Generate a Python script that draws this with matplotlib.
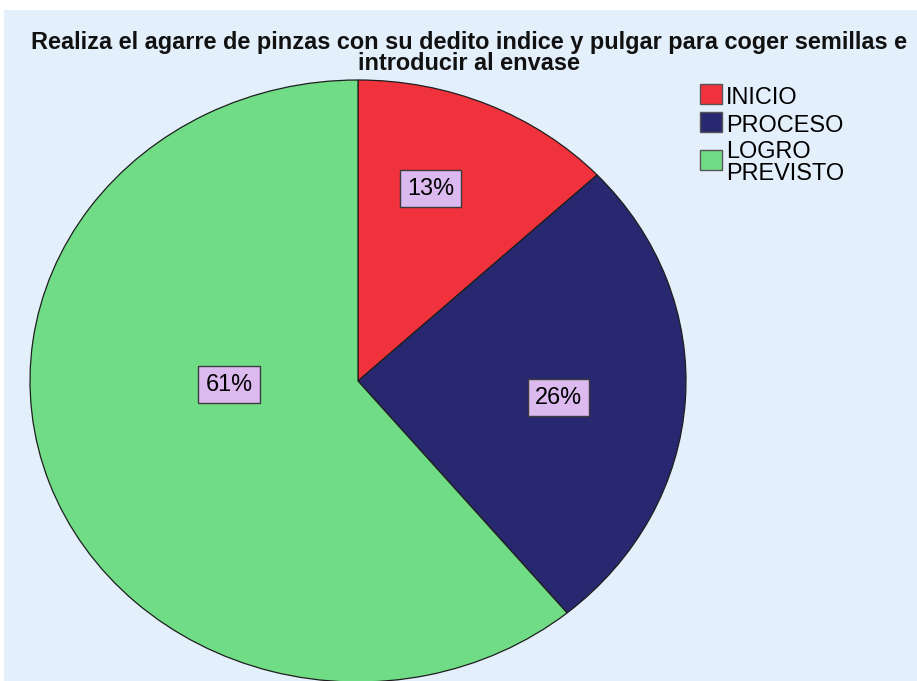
import matplotlib
matplotlib.use('Agg')
import matplotlib.pyplot as plt
from matplotlib.patches import Rectangle

plt.rcParams['font.family'] = ['Liberation Sans', 'DejaVu Sans']

# ---- data ----
categories = ['INICIO', 'PROCESO', 'LOGRO\nPREVISTO']
percentages = [13, 26, 61]
title_text = ('Realiza el agarre de pinzas con su dedito indice y pulgar para coger semillas e\n'
              'introducir al envase')

# ---- styles / positions ----
colors = ['#f0323c', '#282870', '#70dd86']
bg_color = '#e3effb'
label_box_color = '#dcb9ee'
label_anchor = [(0.222, 0.641), (0.612, -0.055), (-0.393, -0.013)]  # axes data coords
FS = 16.9

W, H = 917, 681
fig = plt.figure(figsize=(W / 100, H / 100), dpi=100, facecolor='white')
fig.patches.append(Rectangle((4 / W, 0), 1 - 4 / W, 1 - 10 / H, transform=fig.transFigure,
                             facecolor=bg_color, edgecolor='none', zorder=-10))

def fx(px):
    return px / W

def fy(py):
    return 1 - py / H

# pie (elliptical, as in the reference)
cx, cy, rx, ry = 358, 381, 328, 301
ax = fig.add_axes([(cx - rx) / W, (H - cy - ry) / H, 2 * rx / W, 2 * ry / H])
ax.set_facecolor('none')
wedges, _ = ax.pie(percentages, colors=colors, startangle=90, counterclock=False,
                   wedgeprops=dict(edgecolor='#1e1e1e', linewidth=0.9))
for w in wedges:
    w.set_clip_on(False)
ax.set_xlim(-1, 1)
ax.set_ylim(-1, 1)
ax.set_aspect('auto')
ax.axis('off')

for p, (x, y) in zip(percentages, label_anchor):
    ax.text(x, y, f'{p}%', ha='center', va='center', fontsize=FS, color='black',
            bbox=dict(boxstyle='square,pad=0.3', facecolor=label_box_color,
                      edgecolor='#3c3c3c', linewidth=1.0), zorder=5)

# title (baseline refers to the last line)
fig.text(fx(469), fy(69.5), title_text, ha='center', va='baseline', fontsize=FS,
         fontweight='bold', color='#111111', linespacing=0.88, multialignment='center')

# legend
sq_tops = [84, 111.7, 150]
text_baselines = [104, 131.7, 180]
for cat, col, top, b in zip(categories, colors, sq_tops, text_baselines):
    fig.patches.append(Rectangle((fx(699.5), fy(top + 20)), 22 / W, 20 / H,
                                 transform=fig.transFigure, facecolor=col,
                                 edgecolor='#555555', linewidth=1.0, zorder=3))
    fig.text(fx(726), fy(b), cat, ha='left', va='baseline', fontsize=FS, color='black',
             linespacing=0.95)

fig.savefig('out.png', dpi=100, facecolor='white')
